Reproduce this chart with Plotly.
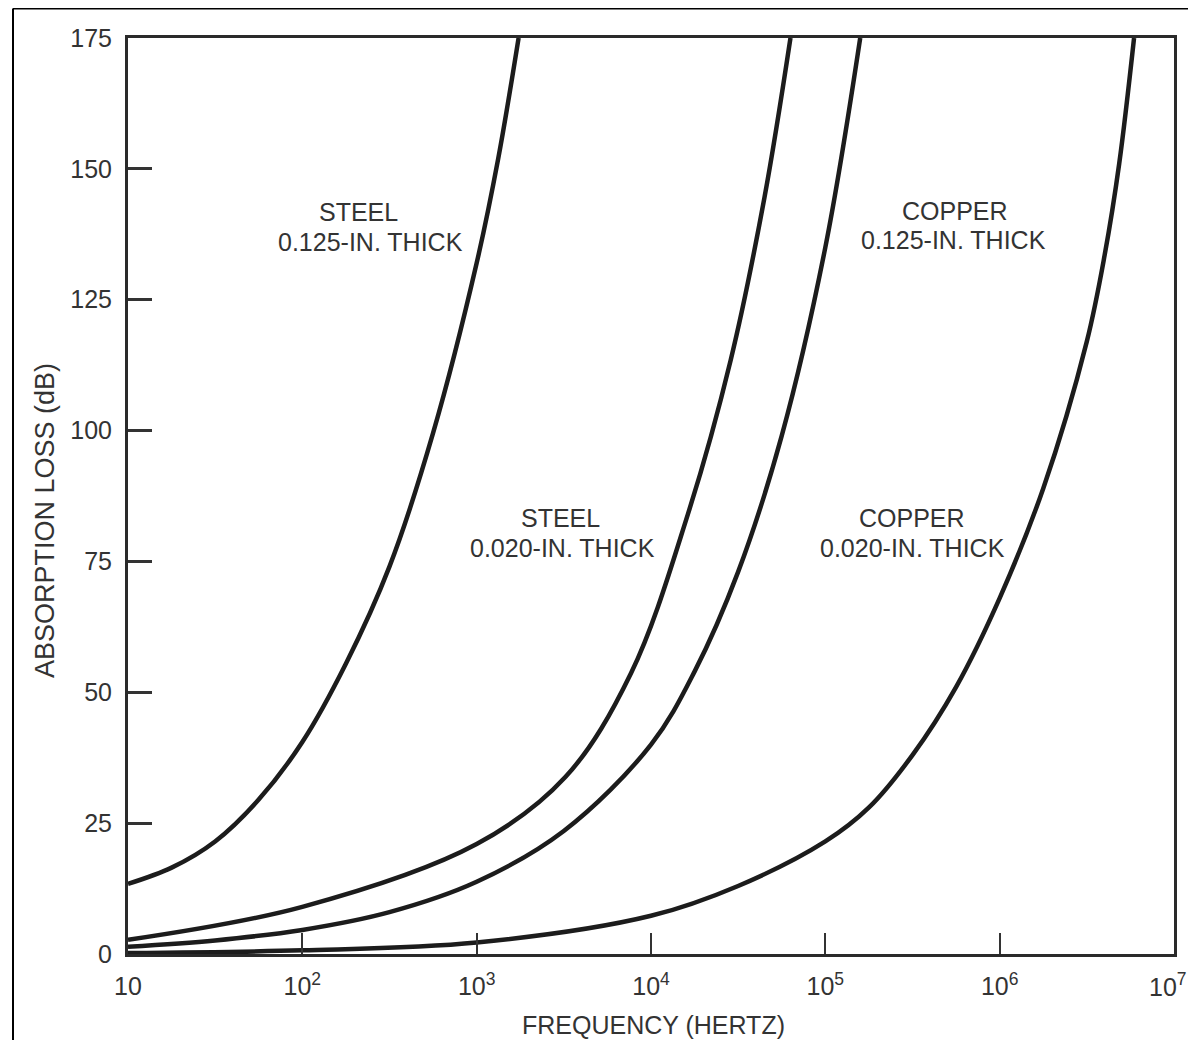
import plotly.graph_objects as go

# ---- data ----
steel_125_freq = [10, 17.8, 31.6, 56.2, 100, 178, 316, 562, 1000, 1330, 1740]
steel_125_db = [13.4, 16.5, 21.5, 29.5, 40.5, 55.5, 74.0, 99.5, 132.0, 152.0, 175.0]

steel_020_freq = [10, 100, 1000, 3226, 7690, 16270, 28660, 44800, 63100]
steel_020_db = [2.7, 9.0, 21.0, 33.8, 53.7, 84.0, 113.5, 144.6, 175.0]

copper_125_freq = [10, 31.6, 100, 316, 1000, 3160, 10000, 17800, 31600, 56200, 100000, 158500]
copper_125_db = [1.4, 2.6, 4.6, 8.0, 13.8, 23.5, 40.0, 54.0, 73.0, 99.0, 135.0, 175.0]

copper_020_freq = [10, 100, 1000, 10000, 31600, 100000, 178000, 316000, 562000,
                   1.0e6, 1.78e6, 3.16e6, 4.0e6, 4.85e6, 5.9e6]
copper_020_db = [0.2, 0.7, 2.2, 7.3, 13.0, 21.5, 28.0, 38.0, 51.0,
                 68.0, 89.0, 117.0, 133.5, 151.0, 175.0]

x_tick_vals = [10, 1e2, 1e3, 1e4, 1e5, 1e6, 1e7]
x_tick_text = ["10", "10<sup>2</sup>", "10<sup>3</sup>", "10<sup>4</sup>",
               "10<sup>5</sup>", "10<sup>6</sup>", "10<sup>7</sup>"]
y_tick_vals = [0, 25, 50, 75, 100, 125, 150, 175]

labels = [
    ("STEEL", 358, 212), ("0.125-IN. THICK", 370, 242),
    ("STEEL", 560, 518), ("0.020-IN. THICK", 562, 548),
    ("COPPER", 955, 211), ("0.125-IN. THICK", 953, 240),
    ("COPPER", 912, 518), ("0.020-IN. THICK", 912, 548),
]

# ---- page geometry (pixels, page coords; the page body has an 8px margin) ----
OFF = 8
W, H = 1196 - 2 * OFF, 1048 - 2 * OFF
L, R, T, B = 128, 1174, 38, 954
pw, ph = R - L, B - T


def px(xp):
    return (xp - L) / pw


def py(yp):
    return (B - yp) / ph


FONT = "Liberation Sans, Arial, Helvetica, sans-serif"
INK = "#1c1c1c"
TXT = "#333333"

fig = go.Figure()
for fx, fy in [(steel_125_freq, steel_125_db), (steel_020_freq, steel_020_db),
               (copper_125_freq, copper_125_db), (copper_020_freq, copper_020_db)]:
    fig.add_trace(go.Scatter(x=fx, y=fy, mode="lines",
                             line=dict(color=INK, width=4.5, shape="spline", smoothing=1.0),
                             showlegend=False, hoverinfo="skip", cliponaxis=True))

annotations = []
for text, xp, yp in labels:
    annotations.append(dict(text=text, x=px(xp), y=py(yp), xref="paper", yref="paper",
                            showarrow=False, xanchor="center", yanchor="middle",
                            font=dict(family=FONT, size=25, color=TXT)))
annotations.append(dict(text="FREQUENCY (HERTZ)", x=px(653), y=py(1025), xref="paper", yref="paper",
                        showarrow=False, xanchor="center", yanchor="middle",
                        font=dict(family=FONT, size=25, color=TXT)))
annotations.append(dict(text="ABSORPTION LOSS (dB)", x=px(45), y=py(521), xref="paper", yref="paper",
                        showarrow=False, xanchor="center", yanchor="middle", textangle=-90,
                        font=dict(family=FONT, size=27, color=TXT)))
# the last decade label sits at the page edge, where plotly would hide a tick label
annotations.append(dict(text=x_tick_text[-1], x=px(1188), y=py(985), xref="paper", yref="paper",
                        showarrow=False, xanchor="right", yanchor="middle", borderpad=0,
                        font=dict(family=FONT, size=25, color=TXT)))

shapes = [
    dict(type="line", xref="paper", yref="paper", x0=px(13), x1=px(13), y0=py(8.5), y1=py(1060),
         line=dict(color="black", width=2)),
    dict(type="line", xref="paper", yref="paper", x0=px(13), x1=px(1210), y0=py(8.5), y1=py(8.5),
         line=dict(color="black", width=2)),
]

fig.update_layout(
    width=W, height=H,
    margin=dict(l=L - OFF, r=(OFF + W) - R, t=T - OFF, b=(OFF + H) - B, pad=0),
    paper_bgcolor="white", plot_bgcolor="white",
    annotations=annotations, shapes=shapes,
    font=dict(family=FONT, size=25, color=TXT),
)
fig.update_xaxes(type="log", range=[1, 7], tickvals=x_tick_vals,
                 ticktext=x_tick_text[:-1] + [""],
                 ticks="inside", ticklen=21, tickwidth=2.2, tickcolor="#333",
                 showline=True, linewidth=3, linecolor="#2a2a2a", mirror=True,
                 showgrid=False, zeroline=False, ticklabelstandoff=8,
                 tickfont=dict(family=FONT, size=25, color=TXT))
fig.update_yaxes(range=[0, 175], tickvals=y_tick_vals,
                 ticks="inside", ticklen=24, tickwidth=2.5, tickcolor="#333",
                 showline=True, linewidth=3, linecolor="#2a2a2a", mirror=True,
                 showgrid=False, zeroline=False, ticklabelstandoff=8,
                 tickfont=dict(family=FONT, size=25, color=TXT))

fig.write_html("out.html", config={"displayModeBar": False})
